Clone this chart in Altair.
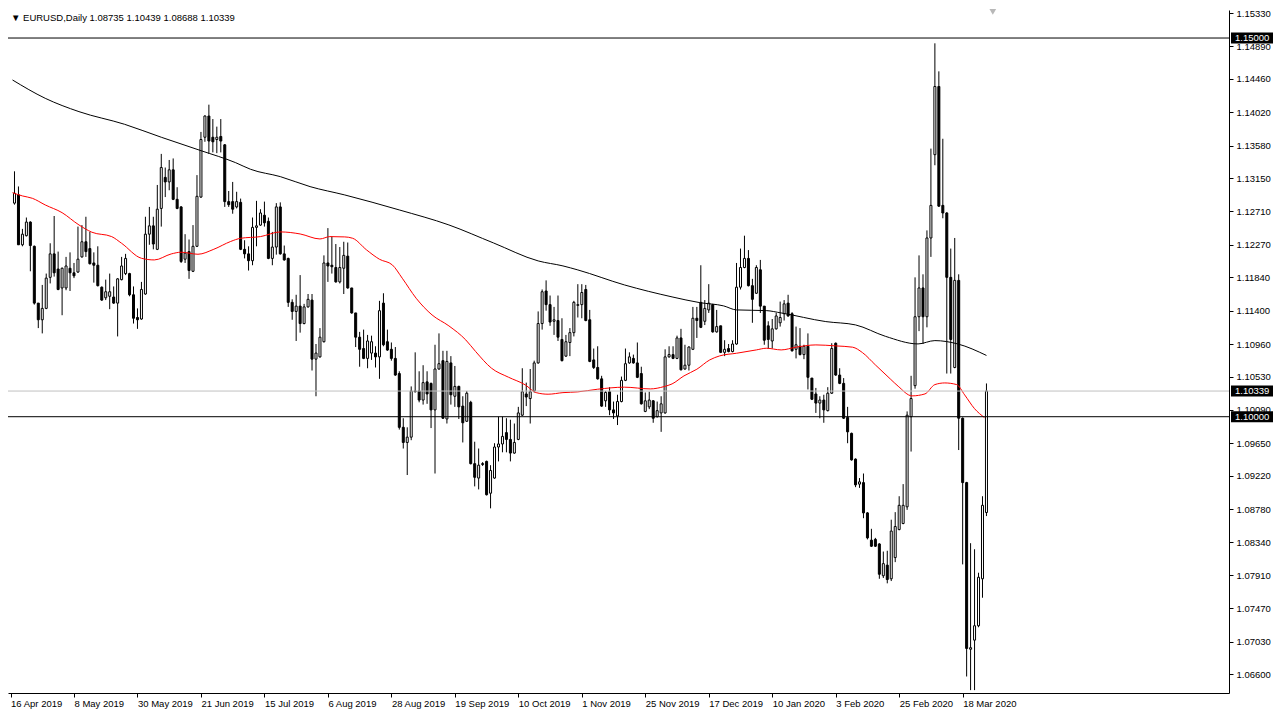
import altair as alt
import pandas as pd

FONT = "Liberation Sans"

# ---- daily OHLC (EURUSD) ----
opens = [
    1.1282, 1.1293, 1.1227, 1.1239, 1.1257, 1.1225, 1.1150, 1.1128, 1.1143, 1.1184,
    1.1215, 1.1195, 1.1170, 1.1170, 1.1196, 1.1190, 1.1191, 1.1211, 1.1231, 1.1222,
    1.1203, 1.1200, 1.1171, 1.1157, 1.1159, 1.1158, 1.1150, 1.1181, 1.1189, 1.1189,
    1.1161, 1.1131, 1.1129, 1.1162, 1.1241, 1.1252, 1.1221, 1.1275, 1.1316, 1.1310,
    1.1326, 1.1287, 1.1277, 1.1208, 1.1218, 1.1192, 1.1225, 1.1290, 1.1369, 1.1397,
    1.1369, 1.1366, 1.1370, 1.1359, 1.1284, 1.1284, 1.1277, 1.1283, 1.1221, 1.1215,
    1.1206, 1.1250, 1.1253, 1.1266, 1.1258, 1.1209, 1.1224, 1.1277, 1.1215, 1.1209,
    1.1151, 1.1139, 1.1146, 1.1123, 1.1145, 1.1154, 1.1076, 1.1079, 1.1099, 1.1203,
    1.1200, 1.1197, 1.1178, 1.1196, 1.1212, 1.1170, 1.1137, 1.1105, 1.1090, 1.1077,
    1.1084, 1.1084, 1.1079, 1.1150, 1.1099, 1.1089, 1.1077, 1.1057, 1.0986, 1.0966,
    1.0973, 1.1033, 1.1034, 1.1022, 1.1046, 1.1044, 1.1009, 1.1063, 1.1074, 1.0997,
    1.1071, 1.1027, 1.1040, 1.1014, 1.0994, 1.1019, 1.0938, 1.0919, 1.0938, 1.0941,
    1.0899, 1.0919, 1.0960, 1.0964, 1.0979, 1.0970, 1.0952, 1.0970, 1.1002, 1.1030,
    1.1024, 1.1034, 1.1071, 1.1123, 1.1166, 1.1148, 1.1126, 1.1127, 1.1102, 1.1080,
    1.1098, 1.1111, 1.1147, 1.1148, 1.1168, 1.1128, 1.1075, 1.1065, 1.1050, 1.1021,
    1.1033, 1.1009, 1.1001, 1.1020, 1.1048, 1.1071, 1.1077, 1.1071, 1.1057, 1.1007,
    1.1013, 1.1021, 1.1000, 1.1005, 1.1005, 1.1079, 1.1082, 1.1077, 1.1104, 1.1063,
    1.1068, 1.1089, 1.1130, 1.1151, 1.1126, 1.1141, 1.1148, 1.1112, 1.1120, 1.1085,
    1.1090, 1.1086, 1.1096, 1.1171, 1.1197, 1.1209, 1.1173, 1.1163, 1.1194, 1.1146,
    1.1120, 1.1100, 1.1116, 1.1124, 1.1136, 1.1150, 1.1136, 1.1089, 1.1093, 1.1082,
    1.1093, 1.1051, 1.1030, 1.1018, 1.1022, 1.1008, 1.1031, 1.1097, 1.1055, 1.1044,
    1.0999, 1.0978, 1.0944, 1.0911, 1.0913, 1.0873, 1.0837, 1.0838, 1.0832, 1.0790,
    1.0804, 1.0786, 1.0814, 1.0851, 1.0859, 1.0881, 1.1000, 1.1041, 1.1132, 1.1170,
    1.1132, 1.1236, 1.1346, 1.1436, 1.1279, 1.1269, 1.1184, 1.1065, 1.1180, 1.0998,
    1.0913, 1.0693, 1.0705, 1.0724, 1.0786, 1.08735,
]
highs = [
    1.1324, 1.1304, 1.1248, 1.1263, 1.1258, 1.1226, 1.1150, 1.1174, 1.1189, 1.1229,
    1.1265, 1.1218, 1.1197, 1.1211, 1.1217, 1.1203, 1.1251, 1.1253, 1.1264, 1.1244,
    1.1217, 1.1225, 1.1172, 1.1181, 1.1189, 1.1172, 1.1183, 1.1211, 1.1215, 1.1190,
    1.1172, 1.1143, 1.1178, 1.1264, 1.1277, 1.1264, 1.1306, 1.1347, 1.1329, 1.1339,
    1.1341, 1.1303, 1.1278, 1.1241, 1.1234, 1.1253, 1.1319, 1.1376, 1.1398, 1.1412,
    1.1393, 1.1383, 1.1393, 1.1360, 1.1298, 1.1310, 1.1297, 1.1288, 1.1233, 1.1225,
    1.1263, 1.1285, 1.1274, 1.1284, 1.1263, 1.1244, 1.1282, 1.1283, 1.1226, 1.1210,
    1.1155, 1.1161, 1.1187, 1.1149, 1.1162, 1.1162, 1.1096, 1.1117, 1.1213, 1.1249,
    1.1238, 1.1228, 1.1224, 1.1231, 1.1230, 1.1170, 1.1137, 1.1112, 1.1115, 1.1108,
    1.1107, 1.1093, 1.1153, 1.1163, 1.1115, 1.1098, 1.1092, 1.1060, 1.0998, 1.0986,
    1.1040, 1.1085, 1.1060, 1.1068, 1.1060, 1.1045, 1.1095, 1.1110, 1.1087, 1.1087,
    1.1080, 1.1067, 1.1041, 1.1027, 1.1034, 1.1021, 1.0967, 1.0958, 1.0940, 1.0942,
    1.0936, 1.0965, 1.1000, 1.1000, 1.0998, 1.0996, 1.0991, 1.1013, 1.1064, 1.1045,
    1.1063, 1.1074, 1.1139, 1.1168, 1.1180, 1.1160, 1.1145, 1.1160, 1.1130, 1.1108,
    1.1117, 1.1153, 1.1175, 1.1175, 1.1174, 1.1141, 1.1090, 1.1093, 1.1054, 1.1034,
    1.1039, 1.1020, 1.1029, 1.1053, 1.1090, 1.1085, 1.1082, 1.1098, 1.1066, 1.1032,
    1.1033, 1.1022, 1.1020, 1.1027, 1.1089, 1.1093, 1.1093, 1.1107, 1.1116, 1.1095,
    1.1093, 1.1145, 1.1145, 1.1200, 1.1154, 1.1175, 1.1149, 1.1141, 1.1120, 1.1101,
    1.1096, 1.1101, 1.1203, 1.1222, 1.1239, 1.1220, 1.1182, 1.1200, 1.1207, 1.1146,
    1.1126, 1.1129, 1.1137, 1.1152, 1.1154, 1.1161, 1.1138, 1.1119, 1.1117, 1.1095,
    1.1110, 1.1051, 1.1038, 1.1027, 1.1029, 1.1039, 1.1097, 1.1098, 1.1064, 1.1051,
    1.1013, 1.0979, 1.0945, 1.0919, 1.0925, 1.0874, 1.0852, 1.0840, 1.0833, 1.0822,
    1.0823, 1.0864, 1.0874, 1.0895, 1.0911, 1.1007, 1.1054, 1.1184, 1.1213, 1.1188,
    1.1246, 1.1354, 1.1493, 1.1456, 1.1367, 1.1270, 1.1222, 1.1236, 1.1188, 1.0999,
    1.0914, 1.0833, 1.0825, 1.0794, 1.0895, 1.10439,
]
lows = [
    1.1280, 1.1227, 1.1225, 1.1238, 1.1192, 1.1148, 1.1117, 1.1110, 1.1142, 1.1176,
    1.1185, 1.1167, 1.1134, 1.1167, 1.1166, 1.1183, 1.1190, 1.1210, 1.1211, 1.1201,
    1.1177, 1.1172, 1.1153, 1.1154, 1.1142, 1.1149, 1.1106, 1.1180, 1.1187, 1.1159,
    1.1123, 1.1116, 1.1128, 1.1161, 1.1227, 1.1221, 1.1220, 1.1251, 1.1290, 1.1299,
    1.1286, 1.1274, 1.1203, 1.1203, 1.1182, 1.1191, 1.1224, 1.1289, 1.1363, 1.1347,
    1.1349, 1.1348, 1.1349, 1.1277, 1.1277, 1.1268, 1.1275, 1.1220, 1.1209, 1.1193,
    1.1200, 1.1225, 1.1252, 1.1251, 1.1208, 1.1200, 1.1214, 1.1214, 1.1206, 1.1145,
    1.1128, 1.1100, 1.1111, 1.1122, 1.1144, 1.1061, 1.1027, 1.1078, 1.1098, 1.1178,
    1.1189, 1.1177, 1.1176, 1.1162, 1.1169, 1.1136, 1.1092, 1.1066, 1.1076, 1.1064,
    1.1075, 1.1065, 1.1050, 1.1093, 1.1087, 1.1074, 1.1054, 1.0983, 1.0958, 1.0923,
    1.0969, 1.1032, 1.1019, 1.1016, 1.1017, 1.0985, 1.0925, 1.1062, 1.0997, 1.0991,
    1.1016, 1.1013, 1.0997, 1.0966, 1.0993, 1.0937, 1.0908, 1.0904, 1.0935, 1.0896,
    1.0879, 1.0918, 1.0941, 1.0953, 1.0953, 1.0941, 1.0951, 1.0969, 1.1001, 1.1014,
    1.0991, 1.1032, 1.1070, 1.1115, 1.1140, 1.1120, 1.1108, 1.1100, 1.1073, 1.1079,
    1.1080, 1.1106, 1.1131, 1.1130, 1.1126, 1.1072, 1.1063, 1.1049, 1.1013, 1.1013,
    1.1002, 1.0997, 1.0989, 1.1019, 1.1047, 1.1070, 1.1070, 1.1051, 1.1016, 1.1006,
    1.1010, 1.0992, 1.0999, 1.0980, 1.1004, 1.1078, 1.1076, 1.1076, 1.1061, 1.1062,
    1.1061, 1.1088, 1.1104, 1.1117, 1.1121, 1.1137, 1.1111, 1.1111, 1.1084, 1.1080,
    1.1085, 1.1085, 1.1095, 1.1168, 1.1196, 1.1172, 1.1124, 1.1162, 1.1137, 1.1095,
    1.1090, 1.1090, 1.1115, 1.1119, 1.1127, 1.1132, 1.1086, 1.1077, 1.1081, 1.1076,
    1.1036, 1.1022, 1.1005, 1.0998, 1.0992, 1.1007, 1.1030, 1.1054, 1.1043, 1.0997,
    1.0965, 1.0942, 1.0907, 1.0906, 1.0866, 1.0838, 1.0828, 1.0828, 1.0786, 1.0787,
    1.0780, 1.0783, 1.0808, 1.0850, 1.0858, 1.0877, 1.0954, 1.1037, 1.1113, 1.1096,
    1.1118, 1.1211, 1.1332, 1.1277, 1.1262, 1.1057, 1.1057, 1.1064, 1.0956, 1.0805,
    1.0657, 1.0639, 1.0639, 1.0722, 1.0761, 1.08688,
]
closes = [
    1.1295, 1.1227, 1.1241, 1.1257, 1.1226, 1.1150, 1.1128, 1.1143, 1.1183, 1.1215,
    1.1190, 1.1168, 1.1196, 1.1199, 1.1190, 1.1186, 1.1208, 1.1231, 1.1218, 1.1202,
    1.1200, 1.1173, 1.1154, 1.1165, 1.1165, 1.1150, 1.1182, 1.1199, 1.1209, 1.1161,
    1.1130, 1.1128, 1.1168, 1.1241, 1.1252, 1.1228, 1.1274, 1.1329, 1.1310, 1.1326,
    1.1287, 1.1275, 1.1205, 1.1216, 1.1193, 1.1225, 1.1291, 1.1366, 1.1397, 1.1364,
    1.1363, 1.1369, 1.1364, 1.1284, 1.1280, 1.1274, 1.1284, 1.1221, 1.1215, 1.1206,
    1.1250, 1.1252, 1.1269, 1.1256, 1.1209, 1.1224, 1.1277, 1.1215, 1.1207, 1.1151,
    1.1139, 1.1146, 1.1123, 1.1145, 1.1155, 1.1076, 1.1084, 1.1105, 1.1203, 1.1199,
    1.1198, 1.1178, 1.1197, 1.1213, 1.1170, 1.1137, 1.1105, 1.1089, 1.1077, 1.1100,
    1.1099, 1.1079, 1.1140, 1.1095, 1.1088, 1.1077, 1.1055, 1.0986, 1.0966, 1.0973,
    1.1034, 1.1034, 1.1022, 1.1045, 1.1030, 1.1009, 1.1063, 1.1070, 1.0998, 1.1073,
    1.1029, 1.1040, 1.1013, 1.0992, 1.1031, 1.0938, 1.0920, 1.0936, 1.0937, 1.0897,
    1.0929, 1.0960, 1.0964, 1.0974, 1.0970, 1.0952, 1.0966, 1.1005, 1.1033, 1.1026,
    1.1033, 1.1071, 1.1123, 1.1165, 1.1148, 1.1125, 1.1128, 1.1105, 1.1074, 1.1099,
    1.1111, 1.1151, 1.1148, 1.1164, 1.1127, 1.1073, 1.1065, 1.1050, 1.1014, 1.1032,
    1.1009, 1.1005, 1.1020, 1.1048, 1.1070, 1.1079, 1.1071, 1.1052, 1.1017, 1.1021,
    1.1022, 1.0998, 1.1008, 1.1017, 1.1079, 1.1082, 1.1077, 1.1104, 1.1062, 1.1068,
    1.1092, 1.1130, 1.1127, 1.1118, 1.1143, 1.1150, 1.1112, 1.1119, 1.1085, 1.1089,
    1.1086, 1.1096, 1.1171, 1.1197, 1.1209, 1.1173, 1.1155, 1.1197, 1.1146, 1.1101,
    1.1102, 1.1116, 1.1133, 1.1131, 1.1149, 1.1133, 1.1087, 1.1095, 1.1082, 1.1093,
    1.1052, 1.1023, 1.1018, 1.1022, 1.1009, 1.1031, 1.1090, 1.1055, 1.1044, 1.0998,
    1.0980, 1.0943, 1.0910, 1.0914, 1.0873, 1.0840, 1.0829, 1.0829, 1.0792, 1.0806,
    1.0785, 1.0849, 1.0855, 1.0883, 1.0883, 1.1002, 1.1024, 1.1132, 1.1170, 1.1132,
    1.1236, 1.1279, 1.1436, 1.1278, 1.1269, 1.1184, 1.1102, 1.1180, 1.0998, 1.0913,
    1.0694, 1.0695, 1.0724, 1.0788, 1.0883, 1.10339,
]
bars = list(range(len(opens)))

# ---- moving averages (at sample bars) ----
ma_black_bars = [-0.5, 7.75, 16.25, 27.75, 37, 47, 55.75, 59.5, 67, 74.5, 83.25, 97,
                 109.5, 120.75, 132, 138.25, 142, 153.75, 165.75, 172.75, 178.75, 182,
                 189.5, 193.25, 204.5, 212, 219.5, 227.75, 232, 237.75, 245]
ma_black_vals = [1.14446, 1.14204, 1.14028, 1.13861, 1.1369, 1.13513, 1.13354, 1.13267,
                 1.1317, 1.13038, 1.12928, 1.1273, 1.12532, 1.12294, 1.12057, 1.11991,
                 1.11938, 1.1174, 1.11582, 1.11506, 1.11463, 1.1141, 1.11401, 1.1137,
                 1.11256, 1.11212, 1.11062, 1.10961, 1.11005, 1.10961, 1.10809]
ma_red_bars = [-0.5, 2, 4.5, 7.75, 12, 16.25, 19.5, 24.5, 27, 32, 35.25, 39.5, 42, 46.25,
               50.25, 54.5, 57, 62, 67, 72, 77, 79.5, 83.25, 85.25, 88.75, 92, 95.25,
               97.75, 101.25, 105.25, 109.5, 113.75, 116.25, 120.25, 124.5, 128.75, 131.5,
               134.5, 138.25, 142, 147, 153.75, 160.25, 163.75, 165.75, 168.75, 172,
               175.25, 177.75, 182, 187, 189.5, 193.25, 197, 202, 207, 211.25, 213.75,
               217, 220.75, 222.75, 226.25, 229.5, 232, 234.5, 237.5, 239.5, 242, 244.5]
ma_red_vals = [1.12958, 1.12915, 1.12884, 1.12796, 1.12694, 1.12532, 1.12436, 1.12378,
               1.1229, 1.12092, 1.1207, 1.12149, 1.12172, 1.12145, 1.12211, 1.12314,
               1.12356, 1.12378, 1.1244, 1.12413, 1.12347, 1.12378, 1.12374, 1.12356,
               1.12202, 1.12079, 1.12004, 1.11828, 1.11564, 1.11344, 1.11199, 1.11014,
               1.1086, 1.1064, 1.10522, 1.1042, 1.10318, 1.10297, 1.10318, 1.10328,
               1.10363, 1.1039, 1.10367, 1.10398, 1.10433, 1.10539, 1.10627, 1.1075,
               1.10803, 1.10838, 1.10882, 1.10904, 1.10882, 1.10918, 1.10948, 1.10935,
               1.10918, 1.10846, 1.10684, 1.10499, 1.10402, 1.10275, 1.10301, 1.10424,
               1.10446, 1.10424, 1.10288, 1.10106, 1.09988]

# ---- axes ----
tick_bars = [-1, 15, 31, 47, 63, 79, 95, 111, 127, 143, 159, 175, 191, 207, 223, 239]
tick_labels = ["16 Apr 2019", "8 May 2019", "30 May 2019", "21 Jun 2019", "15 Jul 2019",
               "6 Aug 2019", "28 Aug 2019", "19 Sep 2019", "10 Oct 2019", "1 Nov 2019",
               "25 Nov 2019", "17 Dec 2019", "10 Jan 2020", "3 Feb 2020", "25 Feb 2020",
               "18 Mar 2020"]
price_ticks = [1.15330, 1.14890, 1.14460, 1.14020, 1.13580, 1.13150, 1.12710, 1.12270,
               1.11840, 1.11400, 1.10960, 1.10530, 1.10090, 1.09650, 1.09220, 1.08780,
               1.08340, 1.07910, 1.07470, 1.07030, 1.06600]

level_prices = [1.15, 1.10339, 1.10]
level_labels = ["1.15000", "1.10339", "1.10000"]
level_colors = ["black", "#C0C0C0", "black"]

title_text = "\u25BC EURUSD,Daily  1.08735 1.10439 1.08688 1.10339"
shift_marker_bar = [246.6]
shift_marker_price = [1.15344]

W, H = 1221, 683

candles = pd.DataFrame({"bar": bars, "open": opens, "high": highs, "low": lows, "close": closes})
ma_black = pd.DataFrame({"bar": ma_black_bars, "value": ma_black_vals})
ma_red = pd.DataFrame({"bar": ma_red_bars, "value": ma_red_vals})
levels = pd.DataFrame({"price": level_prices, "label": level_labels, "color": level_colors})
title_df = pd.DataFrame({"t": [title_text]})
marker_df = pd.DataFrame({"bar": shift_marker_bar, "price": shift_marker_price})

x_scale = alt.Scale(domain=[-0.375, 304.875], nice=False, zero=False)
y_scale = alt.Scale(domain=[1.06352, 1.15370], nice=False, zero=False)

label_expr = ("[" + ",".join("'%s'" % t for t in tick_labels) + "][indexof(["
              + ",".join(str(b) for b in tick_bars) + "], datum.value)]")

x_axis = alt.Axis(values=tick_bars, labelExpr=label_expr, labelAlign="left",
                  labelBaseline="top", labelPadding=1, tickSize=4, labelFlush=False,
                  labelOverlap=False, labelBound=False, title=None, grid=False,
                  domainColor="black", tickColor="black", labelColor="black",
                  labelFont=FONT, labelFontSize=9.5)
y_axis = alt.Axis(orient="right", values=price_ticks, format=".5f", tickSize=4,
                  labelPadding=3, labelOverlap=False, labelFlush=False, labelBound=False,
                  title=None, grid=False, domainColor="black", tickColor="black",
                  labelColor="black", labelFont=FONT, labelFontSize=9.5)


def X(field):
    return alt.X(field, scale=x_scale, axis=x_axis)


def Y(field):
    return alt.Y(field, scale=y_scale, axis=y_axis)


base = alt.Chart(candles)
wicks = base.mark_rule(color="black", strokeWidth=1).encode(
    x=X("bar:Q"), y=Y("low:Q"), y2="high:Q",
)
bodies = base.mark_bar(width=2, stroke="black", strokeWidth=1).encode(
    x=X("bar:Q"), y=Y("open:Q"), y2="close:Q",
    fill=alt.condition("datum.close >= datum.open", alt.value("white"), alt.value("black")),
)
red_line = alt.Chart(ma_red).mark_line(color="#FF0000", strokeWidth=1, interpolate="monotone").encode(
    x=X("bar:Q"), y=Y("value:Q"),
)
black_line = alt.Chart(ma_black).mark_line(color="black", strokeWidth=1, interpolate="monotone").encode(
    x=X("bar:Q"), y=Y("value:Q"),
)
hlines = alt.Chart(levels).mark_rule(strokeWidth=1).encode(
    y=Y("price:Q"),
    color=alt.Color("color:N", scale=None),
)
box_path = "M-1,-0.262L1,-0.262L1,0.262L-1,0.262Z"
boxes = alt.Chart(levels).mark_point(shape=box_path, size=1764, filled=True, color="black",
                                     opacity=1, strokeWidth=0).encode(
    y=Y("price:Q"),
    x=alt.value(W + 23),
)
box_text = alt.Chart(levels).mark_text(align="left", baseline="middle", color="white",
                                       font=FONT, fontSize=9.5).encode(
    y=Y("price:Q"),
    x=alt.value(W + 6),
    text="label:N",
)
title = alt.Chart(title_df).mark_text(align="left", baseline="middle", color="black",
                                      font=FONT, fontSize=9.5).encode(
    x=alt.value(3), y=alt.value(8), text="t:N",
)
marker = alt.Chart(marker_df).mark_point(shape="triangle-down", filled=True, color="#B8B8B8",
                                         opacity=1, size=45).encode(
    x=X("bar:Q"), y=Y("price:Q"),
)

chart = alt.layer(wicks, bodies, red_line, black_line, hlines, boxes, box_text, title, marker).properties(
    width=W, height=H,
    padding={"left": 0, "top": 2, "right": 45, "bottom": 19},
    autosize=alt.AutoSizeParams(type="none"),
    background="white",
).configure_view(stroke=None).configure_axis(
    labelFont=FONT, labelFontSize=9.5, labelColor="black",
    domainColor="black", tickColor="black", domainWidth=1, tickWidth=1,
)

chart.save("out.html", embed_options={"renderer": "svg", "actions": False})
